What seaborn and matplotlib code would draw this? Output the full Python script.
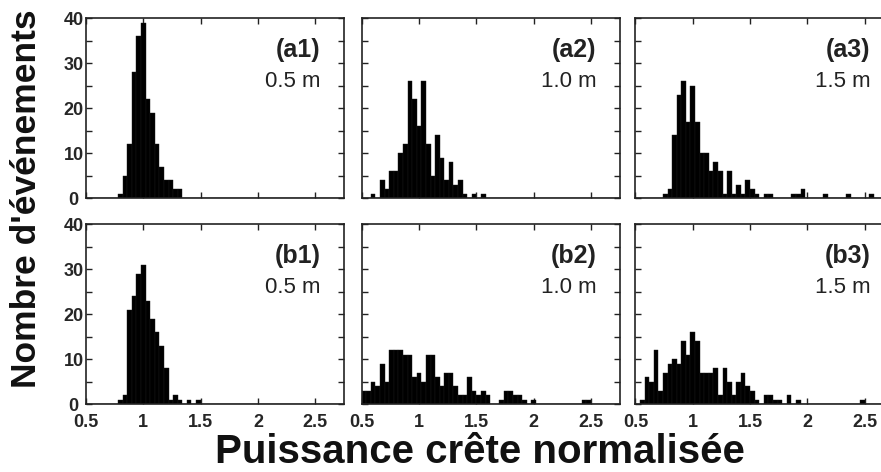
import numpy as np
import pandas as pd
import matplotlib
matplotlib.use("Agg")
import matplotlib.pyplot as plt
import seaborn as sns

# event counts per bin (bins 0.04 wide, first bin starts at 0.5)
a1_counts = [0, 0, 0, 0, 0, 0, 0, 1, 5, 12, 28, 36, 39, 22, 19, 12, 7, 4, 4, 2, 2]
a2_counts = [0, 0, 1, 0, 4, 2, 6, 6, 10, 12, 26, 22, 16, 26, 12, 5, 14, 9, 4, 8,
             3, 4, 1, 0, 1, 0, 1]
a3_counts = [0, 0, 0, 0, 0, 0, 1, 2, 14, 23, 26, 17, 25, 17, 10, 10, 6, 8, 6, 1,
             6, 1, 3, 1, 4, 2, 1, 0, 1, 1, 0, 0, 0, 0, 1, 1, 2, 0, 0, 0,
             0, 1, 0, 0, 0, 0, 1, 0, 0, 0, 0, 1]
b1_counts = [0, 0, 0, 0, 0, 0, 0, 1, 2, 21, 24, 29, 31, 23, 19, 16, 13, 8, 1, 2,
             1, 0, 1, 0, 1]
b2_counts = [3, 3, 5, 4, 9, 5, 12, 12, 12, 11, 11, 6, 7, 5, 11, 11, 6, 4, 7, 7,
             4, 2, 2, 6, 3, 2, 3, 2, 0, 0, 1, 3, 3, 2, 2, 1, 0, 1, 0, 0,
             0, 0, 0, 0, 0, 0, 0, 0, 1, 1]
b3_counts = [0, 1, 6, 5, 12, 3, 7, 9, 10, 9, 14, 11, 16, 14, 7, 7, 7, 8, 2, 8,
             5, 2, 5, 7, 4, 3, 1, 0, 2, 2, 1, 1, 0, 2, 0, 1, 0, 0, 0, 0,
             0, 0, 0, 0, 0, 0, 0, 0, 0, 1]

panels = [[a1_counts, a2_counts, a3_counts], [b1_counts, b2_counts, b3_counts]]
tags = [["(a1)", "(a2)", "(a3)"], ["(b1)", "(b2)", "(b3)"]]
distances = ["0.5 m", "1.0 m", "1.5 m"]
x_ticks = [0.5, 1, 1.5, 2, 2.5]
x_ticklabels = ["0.5", "1", "1.5", "2", "2.5"]
y_ticks = [0, 10, 20, 30, 40]

sns.set_style("ticks")
plt.rcParams["font.family"] = ["Liberation Sans", "DejaVu Sans"]

bin_w = 0.04
x0 = 0.5
edges = list(x0 + bin_w * np.arange(57))

W, H = 881, 472
fig = plt.figure(figsize=(W / 100, H / 100), dpi=100)
col_left = [86, 361.7, 635.4]
row_top = [18.3, 224.3]
ax_w, ax_h = 258, 180

for r in range(2):
    for c in range(3):
        counts = panels[r][c]
        df = pd.DataFrame({
            "x": x0 + bin_w * (np.arange(len(counts)) + 0.5),
            "n": counts,
        })
        ax = fig.add_axes([col_left[c] / W, (H - row_top[r] - ax_h) / H, ax_w / W, ax_h / H])
        sns.histplot(data=df, x="x", weights="n", bins=edges, color="black", alpha=1,
                     edgecolor="#1a1a1a", linewidth=0.3, ax=ax)
        ax.set_xlim(0.5, 2.75)
        ax.set_ylim(0, 40)
        ax.set_xlabel("")
        ax.set_ylabel("")
        ax.set_xticks(x_ticks)
        ax.set_yticks(y_ticks)
        ax.set_yticks([5, 15, 25, 35], minor=True)
        ax.tick_params(which="both", direction="in", top=True, right=True,
                       length=4, width=1, color="#222222")
        ax.tick_params(axis="y", pad=9)
        ax.tick_params(axis="x", pad=7)
        if r == 1:
            ax.set_xticklabels(x_ticklabels, fontsize=13, fontweight="bold")
        else:
            ax.set_xticklabels([])
        if c == 0:
            ax.set_yticklabels([str(v) for v in y_ticks], fontsize=13, fontweight="bold",
                               ha="center")
        else:
            ax.set_yticklabels([])
        for sp in ax.spines.values():
            sp.set_linewidth(1.2)
            sp.set_color("#222222")
        ax.text(0.91, 0.822, tags[r][c], transform=ax.transAxes, ha="right", va="center",
                fontsize=18, fontweight="bold", color="#222222")
        ax.text(0.91, 0.65, distances[c], transform=ax.transAxes, ha="right", va="center",
                fontsize=16, color="#222222")

fig.text(27 / W, 1 - 199 / H, "Nombre d'événements", rotation=90, ha="center", va="center",
         fontsize=25.5, fontweight="bold", color="#111111")
fig.text(480 / W, 1 / H, "Puissance crête normalisée", ha="center", va="bottom",
         fontsize=29, fontweight="bold", color="#111111")

fig.savefig("out.png", dpi=100)
